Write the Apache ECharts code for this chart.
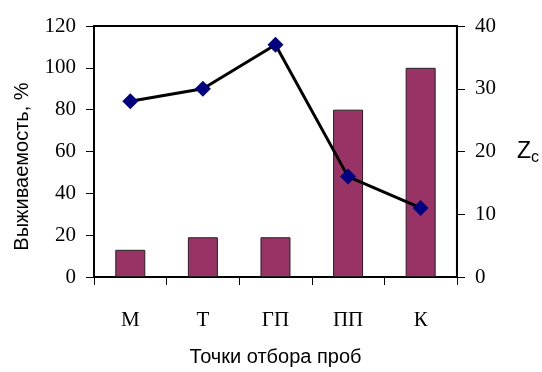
<!DOCTYPE html>
<html>
<head>
<meta charset="utf-8">
<script src="https://cdn.jsdelivr.net/npm/echarts@6/dist/echarts.min.js"></script>
<style>
  html, body { margin: 0; padding: 0; background: #fff; }
  #chart { width: 542px; height: 372px; }
</style>
</head>
<body>
<div id="chart"></div>
<script>
var categories = ['М', 'Т', 'ГП', 'ПП', 'К'];
var survival = [13, 19, 19, 80, 100];   // Выживаемость, %
var zc = [28, 30, 37, 16, 11];          // Zc

var chart = echarts.init(document.getElementById('chart'));

var serif = '"Liberation Serif", "Times New Roman", serif';
var sans = '"Liberation Sans", Arial, sans-serif';

chart.setOption({
  animation: false,
  grid: {
    left: 94, right: 84, top: 26, bottom: 94,
    show: true,
    borderColor: '#000',
    borderWidth: 2,
    backgroundColor: 'transparent'
  },
  xAxis: {
    type: 'category',
    data: categories,
    name: 'Точки отбора проб',
    nameLocation: 'middle',
    nameGap: 70,
    nameTextStyle: { fontFamily: sans, fontSize: 20, color: '#000' },
    axisLine: { lineStyle: { color: '#000', width: 2 } },
    axisTick: { show: true, length: 8, lineStyle: { color: '#000' } },
    axisLabel: { fontFamily: serif, fontSize: 21, color: '#000', margin: 33 }
  },
  yAxis: [{
    type: 'value',
    min: 0, max: 120, interval: 20,
    name: 'Выживаемость, %',
    nameLocation: 'middle',
    nameRotate: 90,
    nameGap: 62,
    nameTextStyle: { fontFamily: sans, fontSize: 20, color: '#000', padding: [0, 30, 0, 0] },
    axisLine: { show: true, lineStyle: { color: '#000', width: 2 } },
    axisTick: { show: true, length: 8, lineStyle: { color: '#000' } },
    axisLabel: { fontFamily: serif, fontSize: 21, color: '#000', margin: 18 },
    splitLine: { show: false }
  }, {
    type: 'value',
    min: 0, max: 40, interval: 10,
    position: 'right',
    name: '{z|Z}{c|c}',
    nameLocation: 'middle',
    nameRotate: 0,
    nameGap: 60,
    nameTextStyle: {
      rich: {
        z: { fontFamily: sans, fontSize: 23, color: '#000' },
        c: { fontFamily: sans, fontSize: 16, color: '#000', padding: [12, 0, 0, 0] }
      }
    },
    axisLine: { show: true, lineStyle: { color: '#000', width: 2 } },
    axisTick: { show: true, length: 8, lineStyle: { color: '#000' } },
    axisLabel: { fontFamily: serif, fontSize: 21, color: '#000', margin: 18 },
    splitLine: { show: false }
  }],
  series: [{
    type: 'bar',
    data: survival,
    barWidth: 30,
    itemStyle: { color: '#993366', borderColor: '#222', borderWidth: 1 }
  }, {
    type: 'line',
    yAxisIndex: 1,
    data: zc,
    symbol: 'diamond',
    symbolSize: 16,
    lineStyle: { color: '#000', width: 3 },
    itemStyle: { color: '#000080' }
  }]
});
</script>
</body>
</html>
